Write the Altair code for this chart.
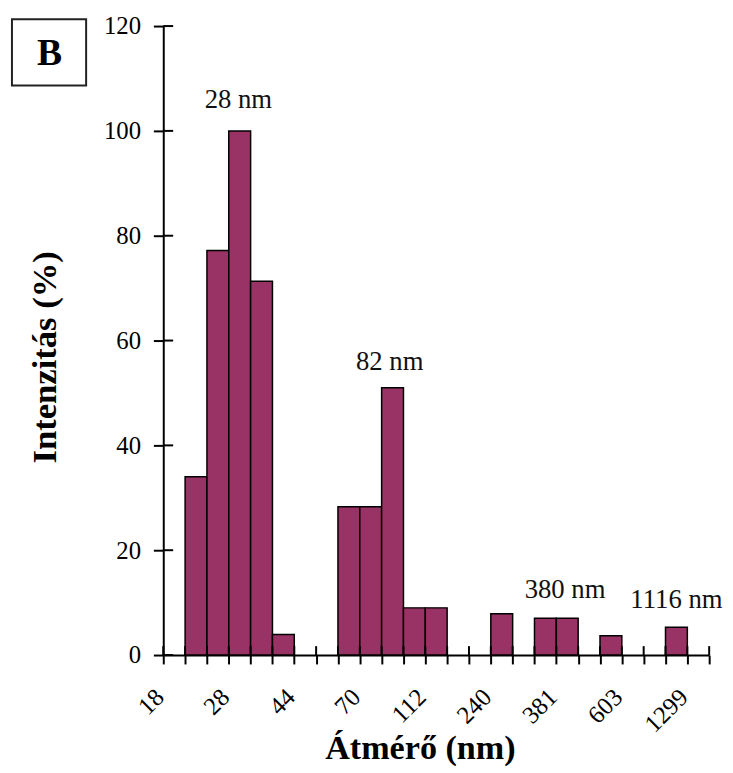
import json
import altair as alt
import pandas as pd

# ---- data ----
n_bins = 25
boundary_labels = ["18", "28", "44", "70", "112", "240", "381", "603", "1299"]  # every 3rd bin edge
bar_bins = [1, 2, 3, 4, 5, 8, 9, 10, 11, 12, 15, 17, 18, 20, 23]
bar_values = [34.0, 77.2, 100.0, 71.3, 3.9, 28.3, 28.3, 51.0, 9.0, 9.0, 7.9, 7.0, 7.0, 3.7, 5.3]
peak_labels = ["28 nm", "82 nm", "380 nm", "1116 nm"]
peak_x = [3.44, 10.37, 18.4, 23.5]
peak_y = [105.8, 55.8, 12.3, 10.4]
y_ticks = [0, 20, 40, 60, 80, 100, 120]
x_title = "Átmérő (nm)"
y_title = "Intenzitás (%)"
panel_label = "B"

FONT = "Liberation Serif"
BAR = "#993366"
W, H = 552, 636

bars = pd.DataFrame({"start": bar_bins, "end": [b + 1 for b in bar_bins], "value": bar_values})
edges = pd.DataFrame({"t": list(range(n_bins + 1))})
yt = pd.DataFrame({"v": y_ticks})
peaks = pd.DataFrame({"px": peak_x, "py": peak_y, "label": peak_labels})

xs = alt.Scale(domain=[0, n_bins], nice=False, zero=False)
ys = alt.Scale(domain=[0, 120], nice=False)

label_expr = ("datum.value % 3 == 0 ? " + json.dumps(boundary_labels) +
              "[datum.value / 3] : ''")

x_axis = alt.Axis(values=list(range(n_bins + 1)), labelExpr=label_expr, title=None,
                  grid=False, tickSize=9, tickWidth=2, tickColor="black",
                  domainColor="black", domainWidth=2, labelAngle=-45,
                  labelAlign="right", labelBaseline="middle", labelFont=FONT,
                  labelFontSize=25, labelColor="black", labelPadding=29,
                  labelOffset=-4, labelOverlap=False, labelFlush=False, labelBound=False)
y_axis = alt.Axis(values=y_ticks, title=None, grid=False, tickSize=10, tickWidth=2,
                  tickColor="black", domainColor="black", domainWidth=2,
                  labelFont=FONT, labelFontSize=25, labelColor="black", labelPadding=13)

bar_layer = alt.Chart(bars).mark_rect(fill=BAR, stroke="black", strokeWidth=1.5).encode(
    x=alt.X("start:Q", scale=xs, axis=x_axis), x2="end:Q",
    y=alt.Y("value:Q", scale=ys, axis=y_axis), y2=alt.datum(0))

inner_x = alt.Chart(edges).mark_rule(color="black", strokeWidth=2).encode(
    x=alt.X("t:Q", scale=xs, axis=x_axis), y=alt.value(H - 9), y2=alt.value(H))
inner_y = alt.Chart(yt).mark_rule(color="black", strokeWidth=2).encode(
    y=alt.Y("v:Q", scale=ys, axis=y_axis), x=alt.value(0), x2=alt.value(10))

peak_layer = alt.Chart(peaks).mark_text(font=FONT, fontSize=27, color="#111",
                                        align="center", baseline="middle").encode(
    x=alt.X("px:Q", scale=xs, axis=x_axis), y=alt.Y("py:Q", scale=ys, axis=y_axis),
    text="label:N")

xt = alt.Chart(pd.DataFrame({"s": [x_title]})).mark_text(
    font=FONT, fontSize=34.5, fontWeight="bold", color="black",
    align="center", baseline="alphabetic").encode(
    x=alt.value(260), y=alt.value(741), text="s:N")
ytl = alt.Chart(pd.DataFrame({"s": [y_title]})).mark_text(
    font=FONT, fontSize=35, fontWeight="bold", color="black", angle=270,
    align="center", baseline="middle").encode(
    x=alt.value(-119), y=alt.value(335), text="s:N")

box = alt.Chart(pd.DataFrame({"s": [panel_label]})).mark_rect(
    fill="white", stroke="#222", strokeWidth=2).encode(
    x=alt.value(-153), x2=alt.value(-78), y=alt.value(-7), y2=alt.value(60))
btxt = alt.Chart(pd.DataFrame({"s": [panel_label]})).mark_text(
    font=FONT, fontSize=38, fontWeight="bold", color="black",
    align="center", baseline="middle").encode(
    x=alt.value(-115), y=alt.value(28), text="s:N")

chart = alt.layer(bar_layer, inner_x, inner_y, peak_layer, xt, ytl, box, btxt).properties(
    width=W, height=H,
    autosize=alt.AutoSizeParams(type="none"),
    padding={"left": 157, "top": 14, "right": 16, "bottom": 114},
).configure_view(stroke=None)

chart.save("out.html", embed_options={"renderer": "svg", "actions": False})
